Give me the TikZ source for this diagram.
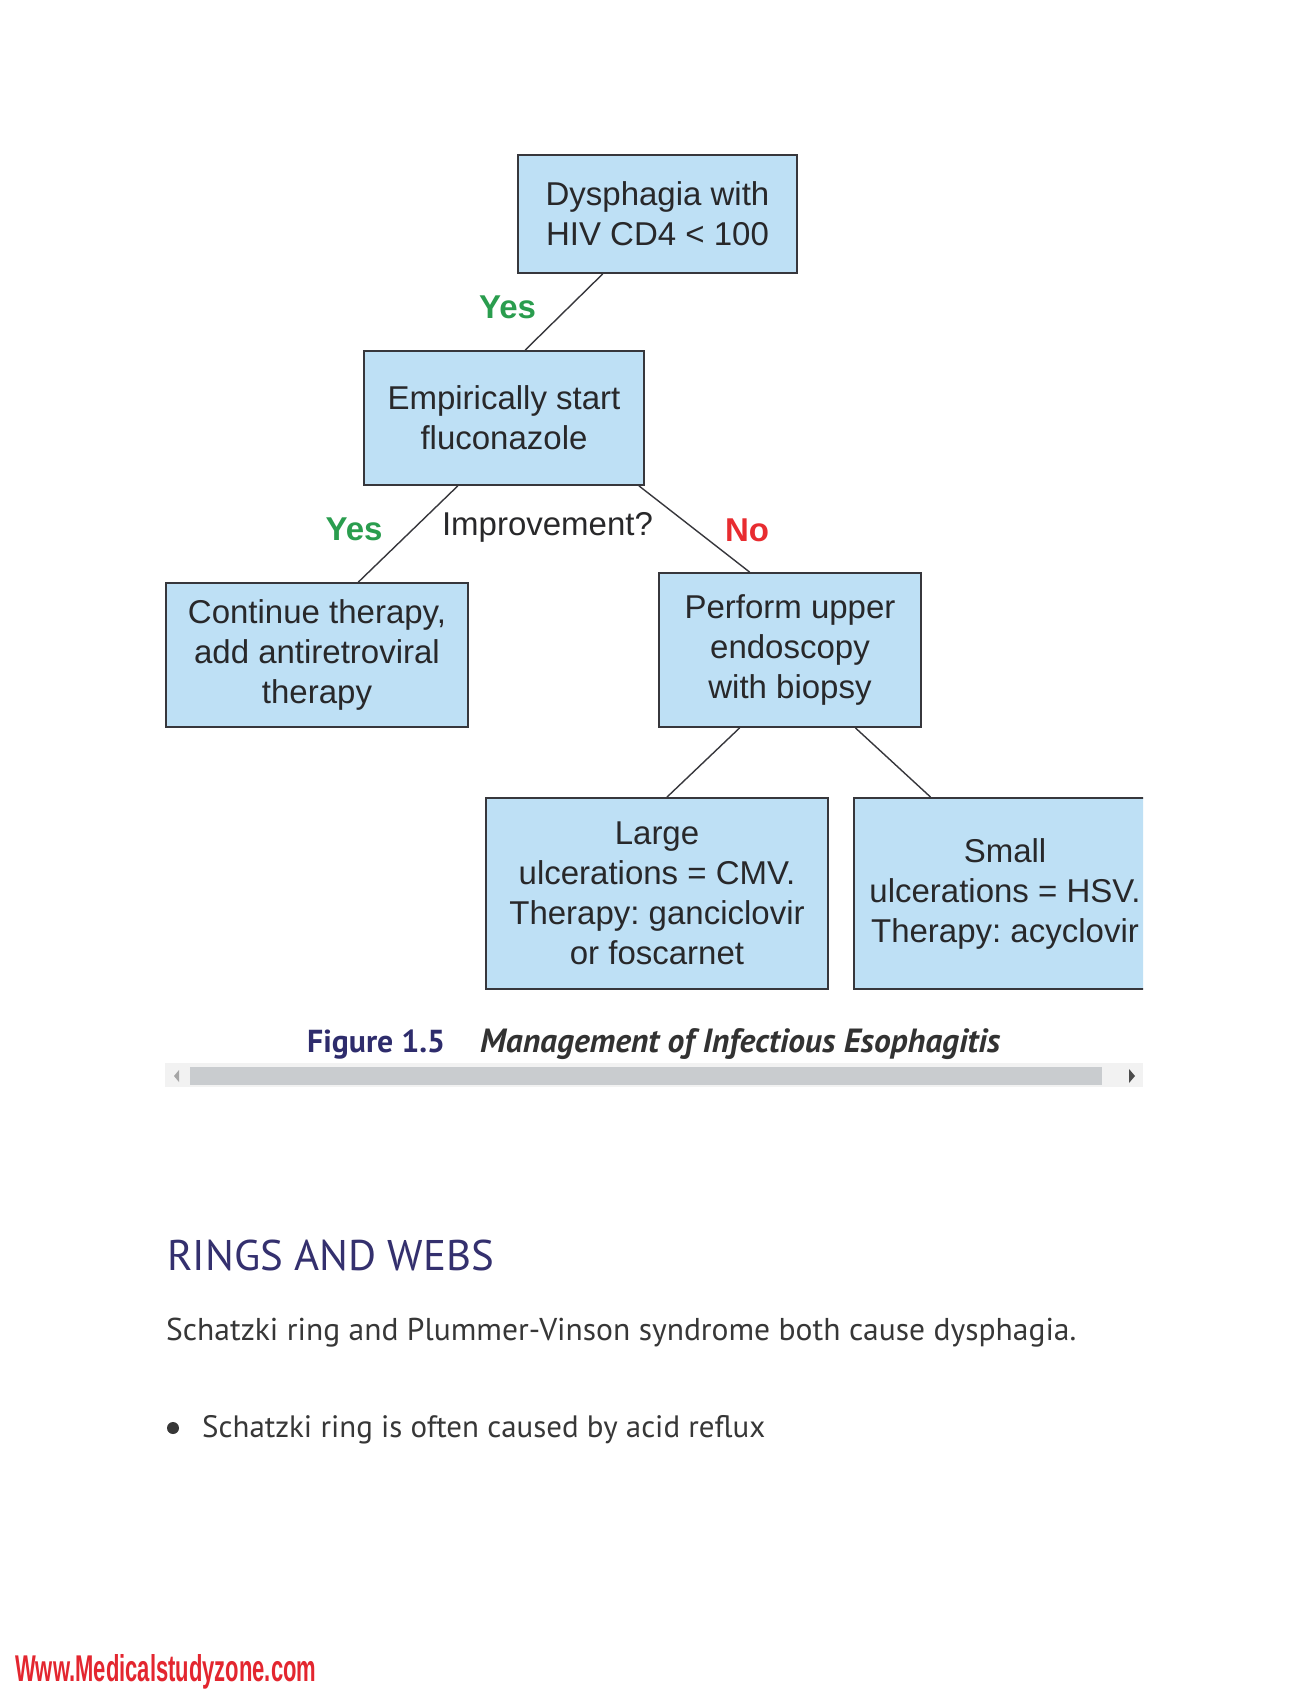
\documentclass[tikz,border=0pt]{standalone}
\usepackage{fontspec}
\usepackage{graphicx}
\usetikzlibrary{calc}
\setmainfont{Liberation Sans}
\newfontfamily\ptsans{PT Sans}
\frenchspacing
\definecolor{boxfill}{RGB}{190,224,245}
\definecolor{boxline}{RGB}{55,55,60}
\definecolor{txt}{RGB}{40,40,42}
\definecolor{yesgreen}{RGB}{42,157,78}
\definecolor{nored}{RGB}{232,44,48}
\definecolor{navy}{RGB}{46,44,108}
\definecolor{captxt}{RGB}{50,50,50}
\definecolor{headcol}{RGB}{52,48,110}
\definecolor{bodytxt}{RGB}{55,55,55}
\definecolor{wmred}{RGB}{227,38,47}
\definecolor{scrollbg}{RGB}{242,242,242}
\definecolor{scrollbar}{RGB}{201,204,207}
\begin{document}
\begin{tikzpicture}[x=1pt,y=-1pt,
  box/.style={draw=boxline, line width=1.8pt, fill=boxfill, inner sep=0pt, align=center,
    text=txt, font=\fontsize{33}{40}\selectfont\frenchspacing},
  conn/.style={draw=boxline, line width=1.4pt},
  lbl/.style={inner sep=0pt, anchor=base, font=\fontsize{33}{38}\selectfont\bfseries},
  plain/.style={inner sep=0pt, anchor=base west}]
\fill[white] (0,0) rectangle (1309,1694);
\useasboundingbox (0,0) rectangle (1309,1694);
\begin{scope}
\clip (0,0) rectangle (1143,1010);
\node[box, minimum width=279pt, minimum height=118pt] (top) at (657.5,214) {Dysphagia with\\HIV CD4 < 100};
\node[box, minimum width=280pt, minimum height=134pt] (emp) at (504,418) {Empirically start\\fluconazole};
\node[box, minimum width=302pt, minimum height=144pt] (cont) at (317,655) {Continue therapy,\\add antiretroviral\\therapy};
\node[box, minimum width=262pt, minimum height=154pt] (perf) at (790,650) {Perform upper\\endoscopy\\with biopsy};
\node[box, minimum width=342pt, minimum height=191pt] (large) at (657,893.5) {Large\\ulcerations = CMV.\\Therapy: ganciclovir\\or foscarnet};
\node[box, minimum width=302pt, minimum height=191pt] (small) at (1005,893.5) {Small\\ulcerations = HSV.\\Therapy: acyclovir};
\draw[conn] ($(top.south west)!0.305!(top.south east)$) -- ($(emp.north west)!0.575!(emp.north east)$);
\draw[conn] ($(emp.south west)!0.336!(emp.south east)$) -- ($(cont.north west)!0.636!(cont.north east)$);
\draw[conn] ($(emp.south west)!0.979!(emp.south east)$) -- ($(perf.north west)!0.347!(perf.north east)$);
\draw[conn] ($(perf.south west)!0.309!(perf.south east)$) -- ($(large.north west)!0.529!(large.north east)$);
\draw[conn] ($(perf.south west)!0.748!(perf.south east)$) -- ($(small.north west)!0.255!(small.north east)$);
\node[lbl, text=yesgreen] (yes1) at (507.5,318) {Yes};
\node[lbl, text=yesgreen] (yes2) at (354,540) {Yes};
\node[lbl, text=nored] (no) at (747,541) {No};
\node[inner sep=0pt, anchor=base, text=txt, font=\fontsize{33}{40}\selectfont] (impr) at (547.5,535) {Improvement?};
\end{scope}
% caption
\node[plain, text=navy] (fig) at (307,1052) {\resizebox{138pt}{!}{\ptsans\bfseries Figure 1.5}};
\node[plain, text=captxt] (cap) at (480,1052) {\resizebox{520pt}{!}{\ptsans\bfseries\itshape Management of Infectious Esophagitis}};
% scrollbar
\fill[scrollbg] (165,1063) rectangle (1143,1087);
\fill[scrollbar] (190,1067) rectangle (1102,1085);
\fill[black!35] (174,1076) -- (179,1070) -- (179,1082) -- cycle;
\fill[black!70] (1135,1076) -- (1129,1069) -- (1129,1083) -- cycle;
% text below
\node[plain, text=headcol] (head) at (167,1270) {\resizebox{327pt}{!}{\ptsans RINGS AND WEBS}};
\node[plain, text=bodytxt] (para) at (166,1340) {\resizebox{910pt}{!}{\ptsans Schatzki ring and Plummer-Vinson syndrome both cause dysphagia.}};
\node[circle, fill=bodytxt, inner sep=0pt, minimum size=12pt] (bul) at (173,1428) {};
\node[plain, text=bodytxt] (item) at (202,1437) {\resizebox{563pt}{!}{\ptsans Schatzki ring is often caused by acid reflux}};
\node[plain, text=wmred] (wm) at (15,1681) {\resizebox{301pt}{27pt}{\bfseries Www.Medicalstudyzone.com}};
\end{tikzpicture}
\end{document}
